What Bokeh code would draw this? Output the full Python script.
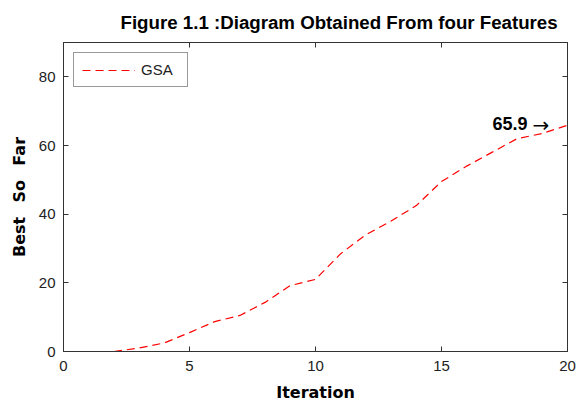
from bokeh.plotting import figure
from bokeh.models import LinearAxis, Legend, LegendItem, Label, Range1d, FixedTicker, Title
from bokeh.embed import file_html
from bokeh.resources import INLINE

# ---- data ----
iterations = [2, 3, 4, 5, 6, 7, 8, 9, 10, 11, 12, 13, 14, 15, 16, 17, 18, 19, 20]
best_so_far = [0.0, 1.0, 2.5, 5.5, 8.7, 10.5, 14.3, 19.2, 21.0, 28.5, 34.0, 38.0, 42.5,
               49.5, 54.0, 58.0, 62.0, 63.5, 65.9]
x_ticks = [0, 5, 10, 15, 20]
y_ticks = [0, 20, 40, 60, 80]
series_name = "GSA"
title_text = "Figure 1.1 :Diagram Obtained From four Features"
x_label = "Iteration"
y_label = "Best\u00a0\u00a0\u2009So\u00a0\u00a0\u2009Far"
final_value = "%.1f" % best_so_far[-1]
arrow = "\u2192"

p = figure(width=576, height=409, output_backend="svg", toolbar_location=None,
           x_range=Range1d(0, 20), y_range=Range1d(0, 90),
           min_border_left=63, min_border_right=9, min_border_top=42, min_border_bottom=58)
p.title = Title(text=title_text, align="left", offset=57, standoff=19,
                text_font="Liberation Sans", text_font_size="18.7px", text_font_style="bold",
                text_color="black")
p.background_fill_color = "white"
p.border_fill_color = "white"
p.xgrid.visible = False
p.ygrid.visible = False
p.outline_line_color = "#333333"
p.outline_line_width = 1

def style_axis(ax, ticks, show_labels=True):
    ax.ticker = FixedTicker(ticks=ticks)
    ax.major_tick_in = 5
    ax.major_tick_out = 0
    ax.minor_tick_line_color = None
    ax.axis_line_color = "#333333"
    ax.major_tick_line_color = "#333333"
    ax.major_label_text_font = "Liberation Sans"
    ax.major_label_text_font_size = "15px"
    ax.major_label_text_color = "#222222"
    if not show_labels:
        ax.major_label_text_font_size = "0px"
        ax.major_label_standoff = 0

style_axis(p.xaxis[0], x_ticks)
style_axis(p.yaxis[0], y_ticks)
p.xaxis[0].major_label_standoff = 9
p.yaxis[0].major_label_standoff = 8
p.xaxis[0].axis_label = x_label
p.yaxis[0].axis_label = y_label
for ax, st in ((p.xaxis[0], 9), (p.yaxis[0], 7)):
    ax.axis_label_text_font = "DejaVu Sans"
    ax.axis_label_text_font_style = "bold"
    ax.axis_label_text_font_size = "16px"
    ax.axis_label_text_color = "black"
    ax.axis_label_standoff = st

top_ax = LinearAxis()
right_ax = LinearAxis()
style_axis(top_ax, x_ticks, show_labels=False)
style_axis(right_ax, y_ticks, show_labels=False)
p.add_layout(top_ax, "above")
p.add_layout(right_ax, "right")

r = p.line(iterations, best_so_far, line_color="#ff0000", line_width=1.2, line_dash="8 5")

legend = Legend(items=[LegendItem(label=series_name, renderers=[r])],
                location="top_left", margin=10, padding=8, spacing=0,
                glyph_width=53, glyph_height=16, label_height=16, label_width=38,
                label_standoff=6, label_text_font="Liberation Sans",
                label_text_font_size="15px", label_text_color="#222222",
                border_line_color="#333333", border_line_width=1,
                background_fill_color="white", background_fill_alpha=1)
p.add_layout(legend)

ann = Label(x=iterations[-1], y=best_so_far[-1], x_offset=-40, y_offset=2,
            text=final_value, text_align="right", text_baseline="middle",
            text_font="Liberation Sans", text_font_size="18px", text_font_style="bold",
            text_color="black")
p.add_layout(ann)
ann_arrow = Label(x=iterations[-1], y=best_so_far[-1], x_offset=-35, y_offset=0,
                  text=arrow, text_align="left", text_baseline="middle",
                  text_font="DejaVu Sans", text_font_size="20px", text_color="black")
p.add_layout(ann_arrow)

open("out.html", "w").write(file_html(p, INLINE))
